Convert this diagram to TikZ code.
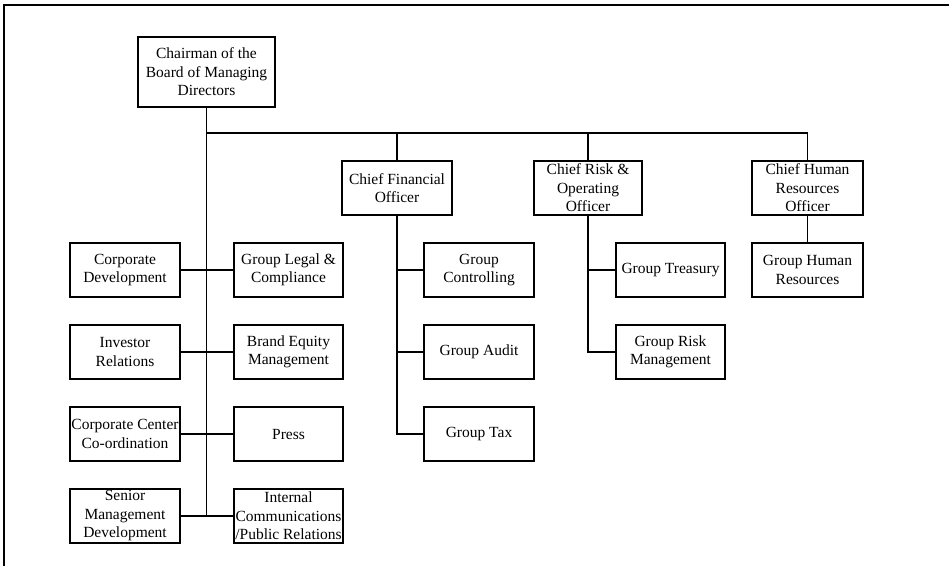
\documentclass[tikz,border=0pt]{standalone}
\usepackage{fontspec}
\setmainfont{Liberation Serif}
\begin{document}
\begin{tikzpicture}[x=1pt,y=-1pt,
  unit/.style={draw, line width=1.8pt, inner sep=0pt, align=center,
    minimum width=110pt, minimum height=54pt,
    font=\fontsize{15.5}{18.5}\selectfont},
  link/.style={line width=1.4pt},
  frame/.style={line width=2.2pt}]
\useasboundingbox (0,0) rectangle (949,566);
% frame edges
\draw[frame] (4,566) -- (4,5) -- (949,5);

% top level
\node[unit, minimum width=137pt, minimum height=70pt] (chair) at (206.5,72) {Chairman of the\\Board of Managing\\Directors};
\node[unit] (cfo)  at (397,188)   {Chief Financial\\Officer};
\node[unit, minimum width=108pt] (cro) at (588,188) {Chief Risk \&\\Operating\\Officer};
\node[unit, minimum width=111pt] (chro) at (807.5,188) {Chief Human\\Resources\\Officer};

% staff units under the chairman
\node[unit] (cd)  at (125,270) {Corporate\\Development};
\node[unit] (ir)  at (125,352) {Investor\\Relations};
\node[unit] (ccc) at (125,434) {Corporate Center\\Co-ordination};
\node[unit] (smd) at (125,516) {Senior\\Management\\Development};
\node[unit, minimum width=109pt] (glc) at (288.5,270) {Group Legal \&\\Compliance};
\node[unit, minimum width=109pt] (bem) at (288.5,352) {Brand Equity\\Management};
\node[unit, minimum width=109pt] (prs) at (288.5,434) {Press};
\node[unit, minimum width=109pt] (icp) at (288.5,516) {Internal\\Communications\\/Public Relations};

% finance units
\node[unit] (gc) at (479,270) {Group\\Controlling};
\node[unit] (ga) at (479,352) {Group Audit};
\node[unit] (gt) at (479,434) {Group Tax};

% risk units
\node[unit, minimum width=109pt] (gtr) at (670.5,270) {Group Treasury};
\node[unit, minimum width=109pt] (grm) at (670.5,352) {Group Risk\\Management};

% human resources unit
\node[unit, minimum width=111pt] (ghr) at (807.5,270) {Group Human\\Resources};

% bus below the chairman
\coordinate (bus) at (206.5,133);
\draw[link] (chair.south) -- (chair.south |- smd.east);
\draw[link] (bus) -| (chro.north);
\draw[link] (cfo.north) -- (cfo.north |- bus);
\draw[link] (cro.north) -- (cro.north |- bus);

% staff rows
\draw[link] (cd.east)  -- (glc.west);
\draw[link] (ir.east)  -- (bem.west);
\draw[link] (ccc.east) -- (prs.west);
\draw[link] (smd.east) -- (icp.west);

% finance branch
\draw[link] (cfo.south) |- (gt.west);
\draw[link] (cfo.south |- gc.west) -- (gc.west);
\draw[link] (cfo.south |- ga.west) -- (ga.west);

% risk branch
\draw[link] (cro.south) |- (grm.west);
\draw[link] (cro.south |- gtr.west) -- (gtr.west);

% human resources branch
\draw[link] (chro.south) -- (ghr.north);
\end{tikzpicture}
\end{document}
